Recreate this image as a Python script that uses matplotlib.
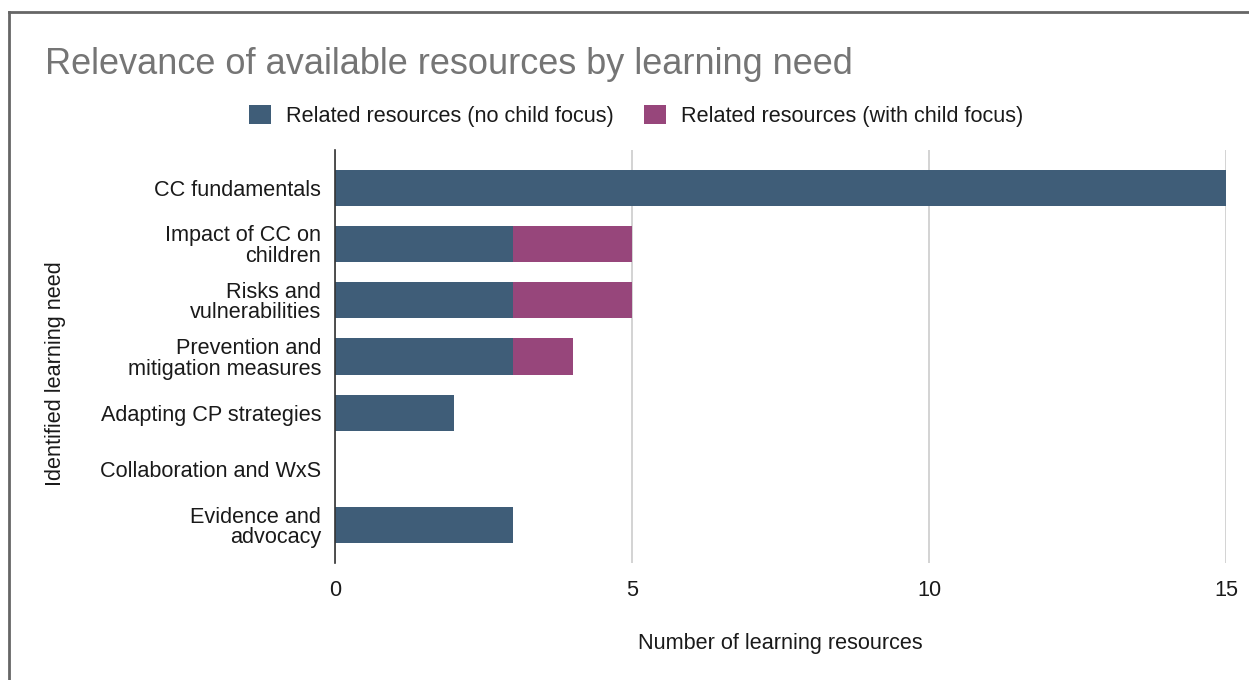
import matplotlib
matplotlib.use("Agg")
import matplotlib.pyplot as plt
import matplotlib.patches as mpatches
from matplotlib.lines import Line2D

plt.rcParams['font.family'] = ['Liberation Sans', 'DejaVu Sans']

# ── Data ───────────────────────────────────────────────────
NEEDS = [
    "CC fundamentals",
    "Impact of CC on\nchildren",
    "Risks and\nvulnerabilities",
    "Prevention and\nmitigation measures",
    "Adapting CP strategies",
    "Collaboration and WxS",
    "Evidence and\nadvocacy",
]
NO_CHILD_FOCUS   = [15, 3, 3, 3, 2, 0, 3]
WITH_CHILD_FOCUS = [0, 2, 2, 1, 0, 0, 0]
X_TICKS = [0, 5, 10, 15]

BLUE    = '#3f5d78'
MAGENTA = '#97467b'
FS = 15.6

W, H = 1249, 680
fig = plt.figure(figsize=(W / 100, H / 100), dpi=100)

# frame around the chart area
fig.add_artist(Line2D([9 / W, 9 / W], [0, 1 - 12 / H], transform=fig.transFigure,
                      color='#666666', lw=2))
fig.add_artist(Line2D([9 / W, 1], [1 - 12 / H, 1 - 12 / H], transform=fig.transFigure,
                      color='#666666', lw=2))

ax = fig.add_axes([335 / W, 1 - 563 / H, (1226 - 335) / W, (563 - 150) / H])

y = list(range(len(NEEDS)))
ax.barh(y, NO_CHILD_FOCUS, height=0.64, color=BLUE, zorder=3)
ax.barh(y, WITH_CHILD_FOCUS, left=NO_CHILD_FOCUS, height=0.64, color=MAGENTA, zorder=3)

ax.set_ylim(len(NEEDS) - 1 + 0.67, -0.67)
ax.set_xlim(0, 15)
ax.set_xticks(X_TICKS)
ax.set_yticks(y)
ax.set_yticklabels(NEEDS, fontsize=FS, color='#1a1a1a', linespacing=0.97)
ax.tick_params(axis='x', length=0, pad=12, labelsize=FS, labelcolor='#1a1a1a')
ax.tick_params(axis='y', length=0, pad=10)

ax.grid(axis='x', color='#cccccc', linewidth=1.2, zorder=0)
for side in ['top', 'right', 'bottom']:
    ax.spines[side].set_visible(False)
ax.spines['left'].set_color('#333333')
ax.spines['left'].set_linewidth(1.2)
ax.spines['left'].set_zorder(4)

fig.text(780 / W, 1 - 643 / H, "Number of learning resources",
         ha='center', va='center', fontsize=FS, color='#1a1a1a')
fig.text(56 / W, 1 - 374 / H, "Identified learning need", rotation=90,
         ha='center', va='center', fontsize=FS, color='#1a1a1a')

fig.text(45 / W, 1 - 65 / H, "Relevance of available resources by learning need",
         ha='left', va='center', fontsize=26, color='#757575')

legend_elements = [
    mpatches.Patch(facecolor=BLUE, label='Related resources (no child focus)'),
    mpatches.Patch(facecolor=MAGENTA, label='Related resources (with child focus)'),
]
fig.legend(handles=legend_elements, loc='center', ncol=2, frameon=False,
           bbox_to_anchor=(636 / W, 1 - 116 / H), fontsize=FS,
           handlelength=1.0, handleheight=1.0, handletextpad=0.7,
           columnspacing=1.4, labelcolor='#1a1a1a')

plt.savefig("out.png", dpi=100, facecolor='white')
plt.close()
